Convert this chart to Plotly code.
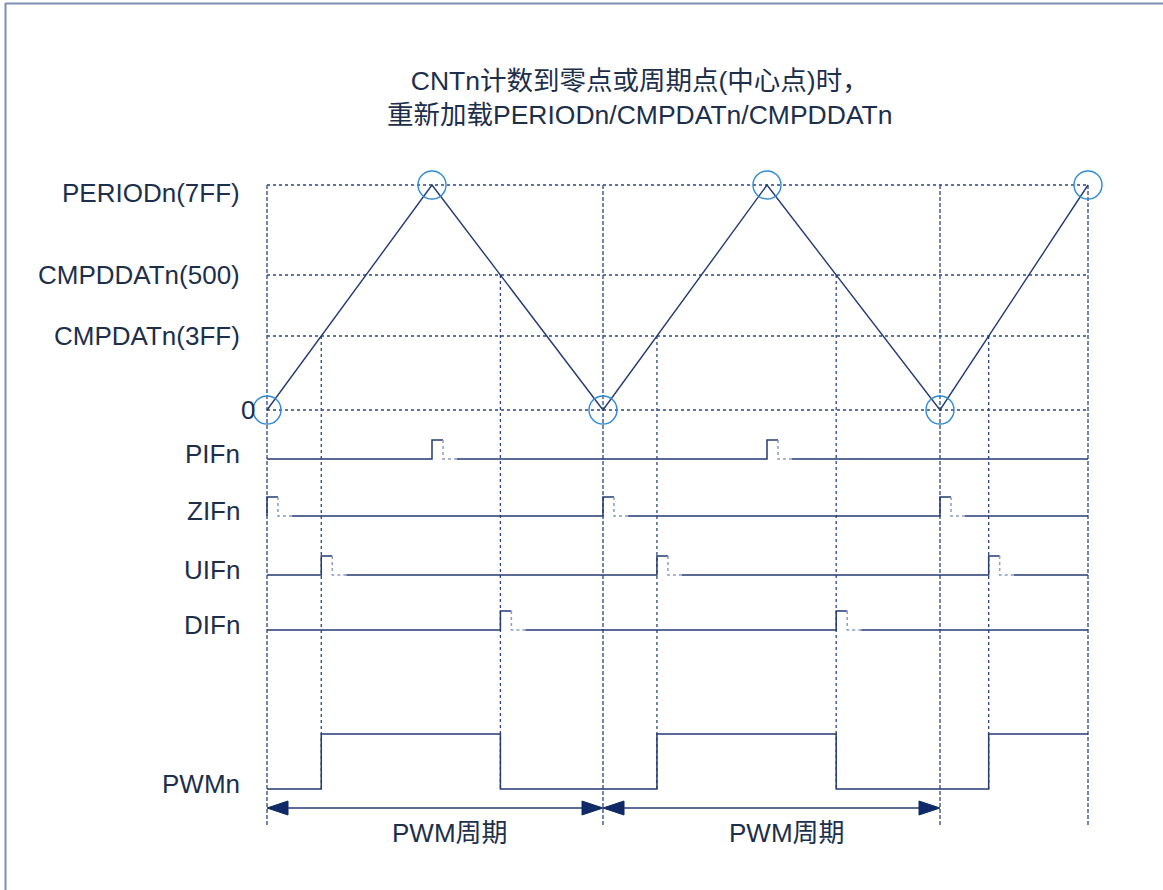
import numpy as np
import plotly.graph_objects as go

# ---------------- data ----------------
# counter vertices (time in diagram units, value in diagram units)
cnt_t = [0, 165, 336, 500, 673, 821]
cnt_v = [0, 225, 0, 225, 0, 225]

level_names = ["0", "CMPDATn(3FF)", "CMPDDATn(500)", "PERIODn(7FF)"]
level_vals = [0, 74, 135, 225]

signal_names = ["PIFn", "ZIFn", "UIFn", "DIFn"]
signal_base = [-49, -106, -165, -220]
pulse_h = 19
pulse_w = 11
trail_w = 14

pwm_low = -379
pwm_high = -324
arrow_y = -398
period_label = "PWM周期"
title_lines = ["CNTn计数到零点或周期点(中心点)时，", "重新加载PERIODn/CMPDATn/CMPDDATn"]

# ---------------- derived events ----------------
T_END = cnt_t[-1]
zeros = [t for t, v in zip(cnt_t, cnt_v) if v == 0]
peaks = [t for t, v in zip(cnt_t, cnt_v) if v == level_vals[3]][:-1]
cmp_up = level_vals[1]
cmp_dn = level_vals[2]
up_cross, dn_cross = [], []
for i in range(len(cnt_t) - 1):
    t0, t1, v0, v1 = cnt_t[i], cnt_t[i + 1], cnt_v[i], cnt_v[i + 1]
    if v1 > v0:
        up_cross.append(t0 + (cmp_up - v0) / (v1 - v0) * (t1 - t0))
    else:
        dn_cross.append(t0 + (cmp_dn - v0) / (v1 - v0) * (t1 - t0))

pulse_times = [peaks, zeros, up_cross, dn_cross]

NAVY = "#233b73"
GRID = "#2c4584"
TXT = "#1d2f4a"
CIRC = "#2f8ad4"
FONT = "Liberation Sans, Arial, Noto Sans CJK SC"
FS = 26

fig = go.Figure()

def line(xs, ys, color=NAVY, width=1.4, dash="solid"):
    fig.add_trace(go.Scatter(x=xs, y=ys, mode="lines",
                             line=dict(color=color, width=width, dash=dash),
                             hoverinfo="skip", showlegend=False))

# horizontal reference lines
for v in level_vals:
    line([0, T_END], [v, v], color=GRID, width=1.3, dash="dot")

# long vertical dashed lines (zero / end)
for t in zeros + [T_END]:
    line([t, t], [level_vals[3], arrow_y - 19], color=GRID, width=1.3, dash="4px,2px")
# compare vertical lines
for t in up_cross:
    line([t, t], [cmp_up, pwm_low], color=GRID, width=1.3, dash="dot")
for t in dn_cross:
    line([t, t], [cmp_dn, pwm_low], color=GRID, width=1.3, dash="dot")

# counter triangle
line(cnt_t, cnt_v, color=NAVY, width=1.4)

# pulse signals
for base, times in zip(signal_base, pulse_times):
    xs, ys = [0], [base]
    segs_dot = []
    for t in times:
        xs += [t, t, t + pulse_w, None]
        ys += [base, base + pulse_h, base + pulse_h, None]
        segs_dot.append((t, base))
        xs += [t + pulse_w + trail_w]
        ys += [base]
    xs += [T_END]
    ys += [base]
    line(xs, ys, color=NAVY, width=1.5)
    for t, b in segs_dot:
        line([t + pulse_w, t + pulse_w, t + pulse_w + trail_w],
             [b + pulse_h, b, b], color="#8c9cc4", width=1.5, dash="dot")

# PWM waveform
edges = sorted([(t, 1) for t in up_cross] + [(t, 0) for t in dn_cross])
px, py = [0], [pwm_low]
state = pwm_low
for t, hi in edges:
    newv = pwm_high if hi else pwm_low
    px += [t, t]
    py += [state, newv]
    state = newv
px.append(T_END)
py.append(state)
line(px, py, color=NAVY, width=1.5)

# period arrows
ah_len, ah_half = 21, 7
for a, b in zip(zeros[:-1], zeros[1:]):
    line([a + ah_len, b - ah_len], [arrow_y, arrow_y], color=NAVY, width=1.5)
    for tip, dirn in ((a, 1), (b, -1)):
        fig.add_trace(go.Scatter(
            x=[tip, tip + dirn * ah_len, tip + dirn * ah_len, tip],
            y=[arrow_y, arrow_y + ah_half, arrow_y - ah_half, arrow_y],
            mode="lines", fill="toself", fillcolor="#0f2a66",
            line=dict(color="#0f2a66", width=1), hoverinfo="skip", showlegend=False))
    fig.add_annotation(x=(a + b) / 2 + 15, y=arrow_y - 25, text=period_label,
                       showarrow=False, font=dict(size=FS, color=TXT, family=FONT))

# circles at vertices
for t, v in zip(cnt_t, cnt_v):
    fig.add_shape(type="circle", xref="x", yref="y", x0=t - 14, x1=t + 14,
                  y0=v - 14, y1=v + 14, line=dict(color=CIRC, width=1.4))

# level labels
for name, v in zip(level_names, level_vals):
    fig.add_annotation(x=-10 if name == "0" else -25, y=v - (8 if v == level_vals[3] else 0),
                       text=name, showarrow=False, xanchor="right",
                       font=dict(size=FS, color=TXT, family=FONT))
# signal labels
for name, base in zip(signal_names + ["PWMn"], signal_base + [pwm_low]):
    fig.add_annotation(x=-25, y=base + 5, text=name, showarrow=False, xanchor="right",
                       font=dict(size=FS, color=TXT, family=FONT))

# title
fig.add_annotation(x=373, y=312, text="<br>".join(title_lines), showarrow=False,
                   align="center", font=dict(size=26.5, color=TXT, family=FONT))

# frame (left and top edges)
fig.add_shape(type="line", xref="paper", yref="paper", x0=5.5 / 1163, x1=5.5 / 1163,
              y0=0, y1=1 - 3 / 890, line=dict(color="#7f8db6", width=2))
fig.add_shape(type="line", xref="paper", yref="paper", x0=5.5 / 1163, x1=1,
              y0=1 - 3.5 / 890, y1=1 - 3.5 / 890, line=dict(color="#7f8db6", width=2))

fig.update_layout(
    width=1163, height=890,
    margin=dict(l=0, r=0, t=0, b=0),
    plot_bgcolor="white", paper_bgcolor="white",
    xaxis=dict(range=[-267, 896], visible=False, fixedrange=True),
    yaxis=dict(range=[-480, 410], visible=False, fixedrange=True),
    showlegend=False,
)

fig.write_html("out.html", config={"displayModeBar": False},
               post_script="document.body.style.margin='0';document.body.style.overflow='hidden';")
